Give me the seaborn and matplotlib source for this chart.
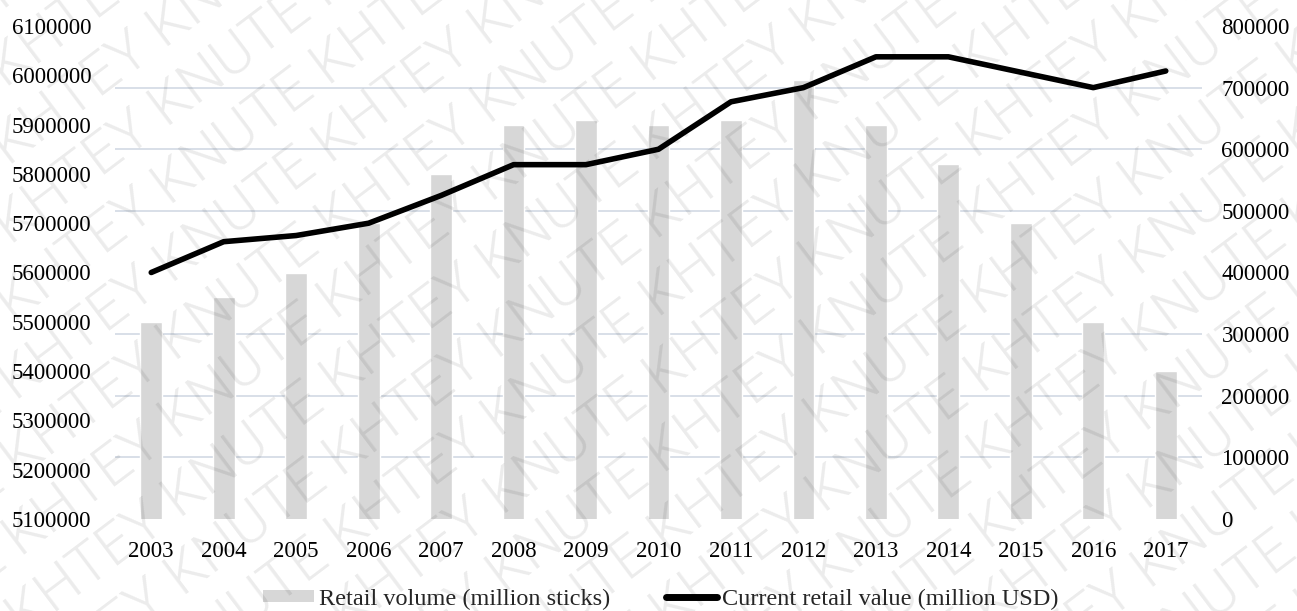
import numpy as np
import pandas as pd
import matplotlib
matplotlib.use("Agg")
import matplotlib.pyplot as plt
from matplotlib.patches import Patch
from matplotlib.lines import Line2D
import seaborn as sns

years = ["2003", "2004", "2005", "2006", "2007", "2008", "2009", "2010",
         "2011", "2012", "2013", "2014", "2015", "2016", "2017"]
retail_volume = [5500000, 5550000, 5600000, 5700000, 5800000, 5900000, 5910000,
                 5900000, 5910000, 5990000, 5900000, 5820000, 5700000, 5500000,
                 5400000]
retail_value = [400000, 450000, 460000, 480000, 525000, 575000, 575000, 600000,
                677000, 700000, 750000, 750000, 725000, 700000, 727000]

volume_label = "Retail volume (million sticks)"
value_label = "Current retail value (million USD)"
watermark = "KHTEY KNUTE "

sns.set_theme(style="white")
plt.rcParams["font.family"] = ["Liberation Serif", "DejaVu Serif"]
FS = 16.5

df = pd.DataFrame({"year": years, "volume": retail_volume, "value": retail_value})

W, H = 1297, 611
fig = plt.figure(figsize=(W / 100, H / 100), dpi=100)
ax = fig.add_axes([115 / W, 1 - 519 / H, (1202 - 115) / W, (519 - 26) / H])

bar_color = "#d7d7d7"
sns.barplot(data=df, x="year", y="volume", color=bar_color, width=0.3,
            saturation=1, ax=ax, zorder=2)
ax.set_ylim(5100000, 6100000)
ax.set_xlim(-0.5, len(years) - 0.5)
left_ticks = np.arange(5100000, 6100001, 100000)
ax.set_yticks(left_ticks)
ax.set_yticklabels([f"{v:d}" for v in left_ticks])

ax2 = ax.twinx()
sns.lineplot(x=np.arange(len(years)), y=df["value"], color="black", lw=4,
             ax=ax2, zorder=3)
ax2.set_ylim(0, 800000)
right_ticks = np.arange(0, 800001, 100000)
ax2.set_yticks(right_ticks)
ax2.set_yticklabels([f"{v:d}" for v in right_ticks])

# horizontal grid follows the right-hand scale, drawn behind the bars
grid_pos = 5100000 + np.arange(0, 9) * 125000
ax.set_yticks(grid_pos, minor=True)
ax.grid(which="minor", axis="y", color="#d6dce6", lw=1.3, zorder=0)
ax.grid(which="major", visible=False)
ax.set_axisbelow(True)

for a in (ax, ax2):
    for s in a.spines.values():
        s.set_visible(False)
    a.set_xlabel("")
    a.set_ylabel("")
ax.tick_params(axis="y", which="both", length=0, pad=17, labelsize=FS, colors="black")
ax.tick_params(axis="x", length=0, pad=16, labelsize=FS, colors="black")
ax2.tick_params(axis="y", length=0, pad=14, labelsize=FS, colors="black")

handles = [Patch(facecolor=bar_color, edgecolor="none", label=volume_label),
           Line2D([0], [0], color="black", lw=5, label=value_label)]
fig.legend(handles=handles, loc="center",
           bbox_to_anchor=(0.5 + 12 / W, 1 - 599 / H),
           ncol=2, frameon=False, fontsize=17.5, handlelength=2.1,
           handleheight=0.35, handletextpad=0.2, columnspacing=2.3)

# diagonal watermark over the whole figure, clipped at its edges
wm = fig.add_axes([0, 0, 1, 1], facecolor="none", zorder=10)
wm.set_axis_off()
wm.set_xlim(0, W)
wm.set_ylim(0, H)
ang = 37
u = np.array([np.cos(np.deg2rad(ang)), np.sin(np.deg2rad(ang))])
v = np.array([-np.sin(np.deg2rad(ang)), np.cos(np.deg2rad(ang))])
for k in range(-14, 15):
    p = np.array([W / 2, H / 2]) + v * (k * 64) + u * (k * 45)
    wm.text(p[0], p[1], watermark * 12, rotation=ang, ha="center",
            va="center", fontsize=42, color="black", alpha=0.08,
            family="Roboto", fontweight=300, rotation_mode="anchor",
            clip_on=True)

fig.savefig("out.png", dpi=100)
